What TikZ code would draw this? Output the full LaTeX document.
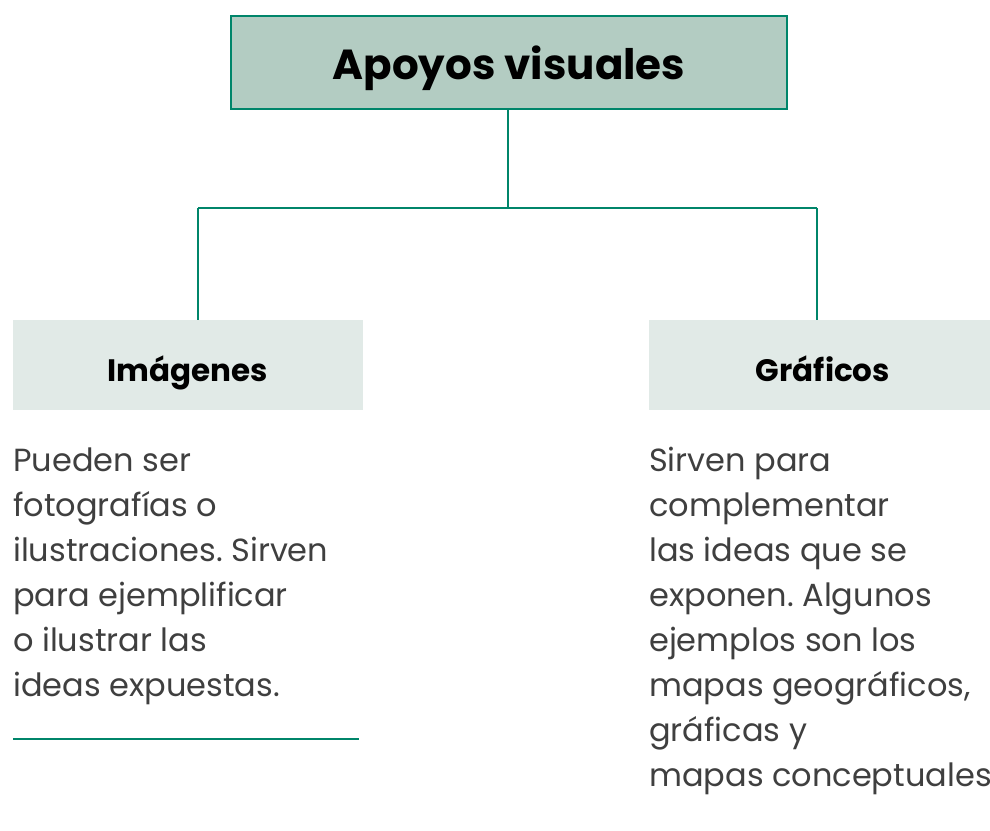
\documentclass[tikz,border=0pt]{standalone}
\usepackage{fontspec}
\setmainfont{Poppins}
\frenchspacing
\definecolor{teal}{HTML}{00856A}
\definecolor{topfill}{HTML}{B3CCC2}
\definecolor{subfill}{HTML}{E1EAE7}
\definecolor{bodytext}{HTML}{3F3F3F}
\tikzset{
  topbox/.style={draw=teal, line width=2.5pt, fill=topfill, minimum width=556pt, minimum height=93pt, inner sep=0pt},
  subbox/.style={fill=subfill, minimum height=90pt, inner sep=0pt},
  lbl/.style={anchor=base, inner sep=0pt, font=\fontsize{31}{36}\selectfont\bfseries},
  para/.style={anchor=base west, align=left, inner sep=0pt, text=bodytext, font=\fontsize{32}{45}\selectfont},
  conn/.style={draw=teal, line width=2.2pt},
}
\begin{document}
\begin{tikzpicture}[x=1pt,y=-1pt]
\useasboundingbox (0,0) rectangle (990,830);
\node[topbox] (top) at (509,62.5) {};
\node[anchor=base, inner sep=0pt, font=\fontsize{42}{48}\selectfont\bfseries] (topt) at (509,79) {Apoyos visuales};
\node[subbox, minimum width=350pt] (img) at (188,365) {};
\node[subbox, minimum width=341pt] (gra) at (819.5,365) {};
\node[lbl] (imgt) at (188,381) {Imágenes};
\node[lbl] (grat) at (823,381) {Gráficos};
\coordinate (j) at (508,208);
\coordinate (jl) at (198,208);
\coordinate (jr) at (817,208);
\draw[conn] (top.south -| j) -- (j);
\draw[conn] (jl) -- (jr);
\draw[conn] (jl) -- (jl |- img.north);
\draw[conn] (jr) -- (jr |- gra.north);
\node[para] (ptxt) at (13,696) {Pueden ser\\fotografías o\\ilustraciones. Sirven\\para ejemplificar\\o ilustrar las\\ideas expuestas.};
\node[para] (gtxt) at (649,786) {Sirven para\\complementar\\las ideas que se\\exponen. Algunos\\ejemplos son los\\mapas geográficos,\\gráficas y\\mapas conceptuales};
\coordinate (ul) at (13,739);
\coordinate (ur) at (359,739);
\draw[conn, line width=2.5pt] (ul) -- (ur);
\end{tikzpicture}
\end{document}
